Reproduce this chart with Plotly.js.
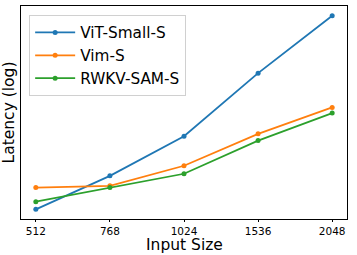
<!DOCTYPE html>
<html><head><meta charset="utf-8">
<script src="https://cdn.plot.ly/plotly-3.0.1.min.js"></script>
<style>html,body{margin:0;padding:0;background:#fff}#c{width:357px;height:255px}</style>
</head><body><div id="c"></div>
<script>
const sizes = ["512", "768", "1024", "1536", "2048"];
const vitSmall = [15, 30.9, 72.6, 283, 978];
const vimS = [24.0, 24.9, 38.4, 76.5, 135];
const rwkvSam = [17.7, 24.0, 32.3, 66.1, 119.7];
const seriesNames = ["ViT-Small-S", "Vim-S", "RWKV-SAM-S"];
const colors = ["#1f77b4", "#ff7f0e", "#2ca02c"];

const all = vitSmall.concat(vimS, rwkvSam).map(v => Math.log10(v));
const lo = Math.min(...all), hi = Math.max(...all), pad = (hi - lo) * 0.05;

const traces = [vitSmall, vimS, rwkvSam].map((ys, i) => ({
  x: sizes, y: ys, name: seriesNames[i], type: "scatter", mode: "lines+markers",
  line: {color: colors[i], width: 1.8}, marker: {color: colors[i], size: 5}
}));

const layout = {
  width: 357, height: 255,
  margin: {l: 21, r: 10, t: 6, b: 36},
  paper_bgcolor: "#fff", plot_bgcolor: "#fff",
  font: {family: "DejaVu Sans", color: "#000"},
  showlegend: true,
  legend: {x: 0.025, y: 0.958, xanchor: "left", yanchor: "top",
    bgcolor: "rgba(255,255,255,0.8)", bordercolor: "#d0d0d0", borderwidth: 1,
    font: {size: 15.3, family: "DejaVu Sans"}, tracegroupgap: 0, itemwidth: 40},
  xaxis: {type: "category", range: [-0.2, 4.2], showgrid: false, zeroline: false,
    showline: true, mirror: true, linecolor: "#000", linewidth: 1,
    ticks: "outside", ticklen: 2, tickcolor: "#000", tickfont: {size: 10.5}},
  yaxis: {type: "log", range: [lo - pad, hi + pad], showgrid: false, zeroline: false,
    showline: true, mirror: true, linecolor: "#000", linewidth: 1,
    showticklabels: false, ticks: "",
    title: {text: "Latency (log)", font: {size: 15.5}, standoff: 2}},
  annotations: [{text: "Input Size", xref: "paper", yref: "paper", x: 0.5, y: -0.12,
    xanchor: "center", yanchor: "middle", showarrow: false, font: {size: 15.5}}]
};
Plotly.newPlot("c", traces, layout, {displayModeBar: false, staticPlot: true});
</script></body></html>
